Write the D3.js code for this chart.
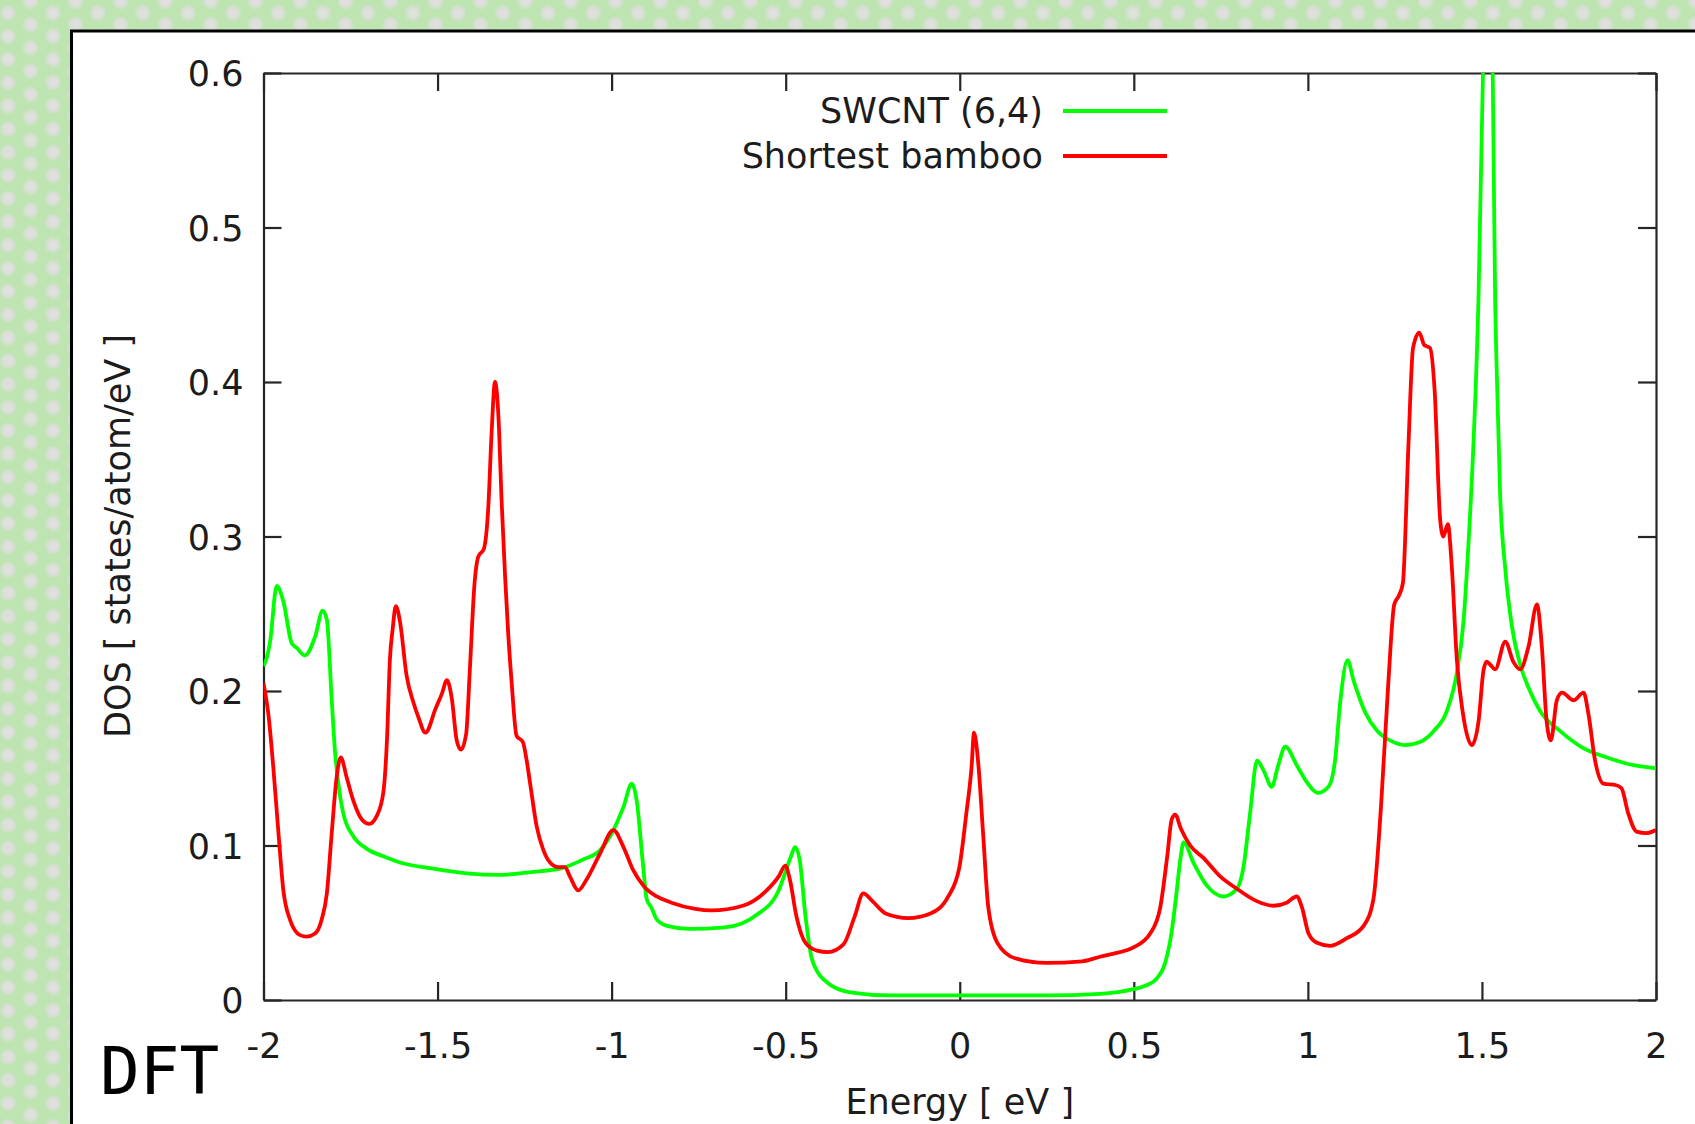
<!DOCTYPE html>
<html>
<head>
<meta charset="utf-8">
<script src="https://cdn.jsdelivr.net/npm/d3@7"></script>
<style>
  body { margin: 0; overflow: hidden; background: #bde4b1; }
  text { font-family: "DejaVu Sans", sans-serif; fill: #1c1c1c; }
</style>
</head>
<body>
<div id="chart"></div>
<script>
// ---- data ----
var seriesNames = ["SWCNT (6,4)", "Shortest bamboo"];
var seriesColors = ["#00ff00", "#ff0000"];

var swcntEnergy = [-2.000, -1.990, -1.981, -1.962, -1.943, -1.919, -1.905, -1.881, -1.852, -1.830,
  -1.818, -1.804, -1.795, -1.785, -1.771, -1.742, -1.704, -1.656, -1.608, -1.512,
  -1.416, -1.321, -1.225, -1.148, -1.081, -1.033, -0.995, -0.966, -0.942, -0.928,
  -0.910, -0.899, -0.886, -0.870, -0.841, -0.777, -0.674, -0.584, -0.520, -0.488,
  -0.473, -0.460, -0.443, -0.424, -0.379, -0.315, -0.200, -0.007, 0.249, 0.403,
  0.499, 0.531, 0.566, 0.590, 0.608, 0.622, 0.633, 0.643, 0.671, 0.710,
  0.757, 0.796, 0.815, 0.834, 0.854, 0.874, 0.896, 0.915, 0.935, 0.968,
  0.997, 1.028, 1.059, 1.078, 1.093, 1.114, 1.131, 1.165, 1.200, 1.236,
  1.280, 1.322, 1.361, 1.399, 1.428, 1.447, 1.461, 1.476, 1.490, 1.503,
  1.517, 1.531, 1.538, 1.543, 1.552, 1.567, 1.586, 1.610, 1.638, 1.667,
  1.725, 1.791, 1.859, 1.935, 2.000];
var swcntDos = [0.216, 0.222, 0.232, 0.268, 0.258, 0.231, 0.228, 0.223, 0.235, 0.252,
  0.246, 0.194, 0.162, 0.140, 0.121, 0.106, 0.098, 0.093, 0.089, 0.085,
  0.082, 0.081, 0.083, 0.085, 0.091, 0.097, 0.110, 0.125, 0.140, 0.129,
  0.088, 0.065, 0.060, 0.052, 0.048, 0.046, 0.047, 0.055, 0.071, 0.091,
  0.099, 0.091, 0.054, 0.026, 0.011, 0.005, 0.003, 0.003, 0.003, 0.004,
  0.007, 0.009, 0.014, 0.024, 0.043, 0.068, 0.090, 0.102, 0.089, 0.074,
  0.067, 0.072, 0.086, 0.121, 0.155, 0.148, 0.138, 0.152, 0.164, 0.152,
  0.141, 0.134, 0.138, 0.155, 0.193, 0.220, 0.207, 0.186, 0.174, 0.168,
  0.165, 0.167, 0.174, 0.187, 0.212, 0.245, 0.294, 0.362, 0.453, 0.600,
  0.800, 0.600, 0.453, 0.403, 0.329, 0.279, 0.242, 0.217, 0.200, 0.187,
  0.174, 0.163, 0.157, 0.152, 0.150];

var bambooEnergy = [-2.000, -1.996, -1.986, -1.972, -1.957, -1.943, -1.924, -1.895, -1.876, -1.852,
  -1.833, -1.818, -1.804, -1.790, -1.778, -1.761, -1.742, -1.718, -1.696, -1.675,
  -1.656, -1.645, -1.637, -1.629, -1.620, -1.608, -1.589, -1.570, -1.555, -1.535,
  -1.505, -1.488, -1.473, -1.459, -1.445, -1.433, -1.418, -1.407, -1.394, -1.383,
  -1.367, -1.354, -1.345, -1.335, -1.325, -1.316, -1.306, -1.297, -1.287, -1.273,
  -1.255, -1.244, -1.234, -1.215, -1.196, -1.177, -1.153, -1.134, -1.120, -1.096,
  -1.072, -1.033, -0.995, -0.966, -0.938, -0.905, -0.870, -0.828, -0.760, -0.713,
  -0.623, -0.559, -0.520, -0.501, -0.488, -0.469, -0.443, -0.410, -0.379, -0.334,
  -0.302, -0.277, -0.251, -0.213, -0.148, -0.084, -0.033, -0.001, 0.018, 0.034,
  0.041, 0.054, 0.067, 0.082, 0.108, 0.159, 0.249, 0.352, 0.403, 0.442,
  0.499, 0.547, 0.576, 0.596, 0.609, 0.619, 0.635, 0.662, 0.700, 0.748,
  0.796, 0.853, 0.901, 0.939, 0.968, 0.983, 1.002, 1.026, 1.064, 1.112,
  1.160, 1.188, 1.210, 1.231, 1.248, 1.262, 1.273, 1.289, 1.302, 1.320,
  1.334, 1.351, 1.364, 1.380, 1.389, 1.402, 1.413, 1.428, 1.445, 1.471,
  1.490, 1.505, 1.514, 1.524, 1.538, 1.567, 1.590, 1.610, 1.634, 1.658,
  1.672, 1.686, 1.698, 1.715, 1.730, 1.763, 1.792, 1.806, 1.825, 1.849,
  1.886, 1.901, 1.920, 1.944, 1.971, 2.000];
var bambooDos = [0.205, 0.200, 0.185, 0.151, 0.108, 0.071, 0.052, 0.042, 0.041, 0.043,
  0.052, 0.069, 0.108, 0.144, 0.157, 0.144, 0.129, 0.117, 0.114, 0.119,
  0.134, 0.170, 0.220, 0.240, 0.255, 0.245, 0.210, 0.193, 0.183, 0.173,
  0.189, 0.198, 0.207, 0.195, 0.168, 0.162, 0.172, 0.215, 0.269, 0.287,
  0.292, 0.320, 0.366, 0.400, 0.377, 0.323, 0.274, 0.237, 0.205, 0.171,
  0.167, 0.155, 0.140, 0.112, 0.097, 0.089, 0.086, 0.086, 0.080, 0.071,
  0.078, 0.095, 0.110, 0.099, 0.084, 0.073, 0.067, 0.063, 0.059, 0.058,
  0.061, 0.070, 0.080, 0.087, 0.078, 0.054, 0.037, 0.032, 0.031, 0.036,
  0.054, 0.069, 0.064, 0.056, 0.053, 0.056, 0.067, 0.086, 0.119, 0.151,
  0.173, 0.151, 0.108, 0.060, 0.037, 0.027, 0.024, 0.025, 0.028, 0.030,
  0.034, 0.043, 0.060, 0.093, 0.117, 0.120, 0.111, 0.100, 0.092, 0.080,
  0.072, 0.064, 0.061, 0.063, 0.067, 0.060, 0.043, 0.037, 0.035, 0.040,
  0.048, 0.065, 0.125, 0.205, 0.256, 0.262, 0.270, 0.360, 0.422, 0.432,
  0.424, 0.422, 0.395, 0.311, 0.300, 0.308, 0.282, 0.220, 0.186, 0.165,
  0.180, 0.214, 0.219, 0.217, 0.214, 0.232, 0.219, 0.214, 0.229, 0.256,
  0.229, 0.180, 0.168, 0.194, 0.199, 0.194, 0.199, 0.185, 0.155, 0.140,
  0.139, 0.137, 0.121, 0.109, 0.108, 0.110];

var xTicks = [-2, -1.5, -1, -0.5, 0, 0.5, 1, 1.5, 2];
var xTickLabels = ["-2", "-1.5", "-1", "-0.5", "0", "0.5", "1", "1.5", "2"];
var yTicks = [0, 0.1, 0.2, 0.3, 0.4, 0.5, 0.6];
var yTickLabels = ["0", "0.1", "0.2", "0.3", "0.4", "0.5", "0.6"];

// ---- layout ----
var svgWidth = 1695;
var svgHeight = 1124;

var margin = {
  top: 73,
  right: 39,
  bottom: 124,
  left: 263.5
};

var width = svgWidth - margin.left - margin.right;
var height = svgHeight - margin.top - margin.bottom;

var svg = d3.select("#chart")
  .append("svg")
  .attr("width", svgWidth)
  .attr("height", svgHeight);

// Dotted green background
var defs = svg.append("defs");

var dotGrad = defs.append("radialGradient").attr("id", "dotGrad");
dotGrad.append("stop").attr("offset", "0%").attr("stop-color", "#e1e1e0");
dotGrad.append("stop").attr("offset", "55%").attr("stop-color", "#dcdfd9");
dotGrad.append("stop").attr("offset", "100%").attr("stop-color", "#bde4b1");

var pattern = defs.append("pattern")
  .attr("id", "dots")
  .attr("patternUnits", "userSpaceOnUse")
  .attr("width", 45)
  .attr("height", 23.2);
pattern.append("rect")
  .attr("width", 45)
  .attr("height", 23.2)
  .attr("fill", "#bde4b1");
[[8, 13], [53, 13], [30.5, 1.4], [30.5, 24.6]].forEach(function(c) {
  pattern.append("circle")
    .attr("cx", c[0])
    .attr("cy", c[1])
    .attr("r", 9)
    .attr("fill", "url(#dotGrad)");
});

svg.append("rect")
  .attr("width", svgWidth)
  .attr("height", svgHeight)
  .attr("fill", "url(#dots)");

// White panel with black frame
svg.append("rect")
  .attr("x", 71.5)
  .attr("y", 31)
  .attr("width", 1700)
  .attr("height", 1200)
  .attr("fill", "#ffffff")
  .attr("stroke", "#000000")
  .attr("stroke-width", 3);

var chartGroup = svg.append("g")
  .attr("transform", `translate(${margin.left}, ${margin.top})`);

// Scales
var xLinearScale = d3.scaleLinear().domain([-2, 2]).range([0, width]);
var yLinearScale = d3.scaleLinear().domain([0, 0.6]).range([height, 0]);

// Clip for the curves
defs.append("clipPath")
  .attr("id", "plotClip")
  .append("rect")
  .attr("width", width)
  .attr("height", height);

// Axes (ticks point inward on all four sides)
var tickLen = 18;

var bottomAxis = d3.axisBottom(xLinearScale)
  .tickValues(xTicks)
  .tickFormat((d, i) => xTickLabels[i])
  .tickSizeInner(-tickLen)
  .tickSizeOuter(0);

var leftAxis = d3.axisLeft(yLinearScale)
  .tickValues(yTicks)
  .tickFormat((d, i) => yTickLabels[i])
  .tickSizeInner(-tickLen)
  .tickSizeOuter(0);

var topAxis = d3.axisTop(xLinearScale)
  .tickValues(xTicks)
  .tickFormat("")
  .tickSizeInner(-tickLen)
  .tickSizeOuter(0);

var rightAxis = d3.axisRight(yLinearScale)
  .tickValues(yTicks)
  .tickFormat("")
  .tickSizeInner(-tickLen)
  .tickSizeOuter(0);

var xAxis = chartGroup.append("g")
  .attr("transform", `translate(0, ${height})`)
  .call(bottomAxis);

var yAxis = chartGroup.append("g")
  .call(leftAxis);

var x2Axis = chartGroup.append("g")
  .call(topAxis);

var y2Axis = chartGroup.append("g")
  .attr("transform", `translate(${width}, 0)`)
  .call(rightAxis);

[xAxis, yAxis, x2Axis, y2Axis].forEach(function(ax) {
  ax.attr("font-family", null)
    .attr("font-size", null)
    .style("color", "#262626");
  ax.selectAll("path, line").attr("stroke-width", 2.2);
});

xAxis.selectAll("text")
  .attr("y", 58)
  .attr("dy", 0)
  .style("font-size", "35px");

yAxis.selectAll("text")
  .attr("x", -20)
  .attr("dy", "0.36em")
  .style("font-size", "35px");

// Curves
var line = d3.line()
  .x(d => xLinearScale(d[0]))
  .y(d => yLinearScale(d[1]))
  .curve(d3.curveMonotoneX);

var swcnt = swcntEnergy.map((e, i) => [e, swcntDos[i]]);
var bamboo = bambooEnergy.map((e, i) => [e, bambooDos[i]]);

var curves = chartGroup.append("g").attr("clip-path", "url(#plotClip)");

[swcnt, bamboo].forEach(function(data, i) {
  curves.append("path")
    .datum(data)
    .attr("d", line)
    .attr("fill", "none")
    .attr("stroke", seriesColors[i])
    .attr("stroke-width", 3.8)
    .attr("stroke-linejoin", "round");
});

// Legend
var legend = svg.append("g");
[123, 168].forEach(function(baseline, i) {
  legend.append("text")
    .attr("x", 1043)
    .attr("y", baseline)
    .attr("text-anchor", "end")
    .style("font-size", "35px")
    .text(seriesNames[i]);
  legend.append("line")
    .attr("x1", 1063)
    .attr("x2", 1167)
    .attr("y1", baseline - 12)
    .attr("y2", baseline - 12)
    .attr("stroke", seriesColors[i])
    .attr("stroke-width", 3.8);
});

// Axis labels
svg.append("text")
  .attr("transform", "translate(130, 536) rotate(-90)")
  .attr("text-anchor", "middle")
  .style("font-size", "35px")
  .text("DOS [ states/atom/eV ]");

svg.append("text")
  .attr("x", margin.left + width / 2)
  .attr("y", 1114)
  .attr("text-anchor", "middle")
  .style("font-size", "35px")
  .text("Energy [ eV ]");

// Method tag
svg.append("text")
  .attr("x", 100)
  .attr("y", 1094)
  .style("font-family", "'DejaVu Sans Mono', monospace")
  .style("font-size", "66px")
  .style("fill", "#000000")
  .text("DFT");
</script>
</body>
</html>
